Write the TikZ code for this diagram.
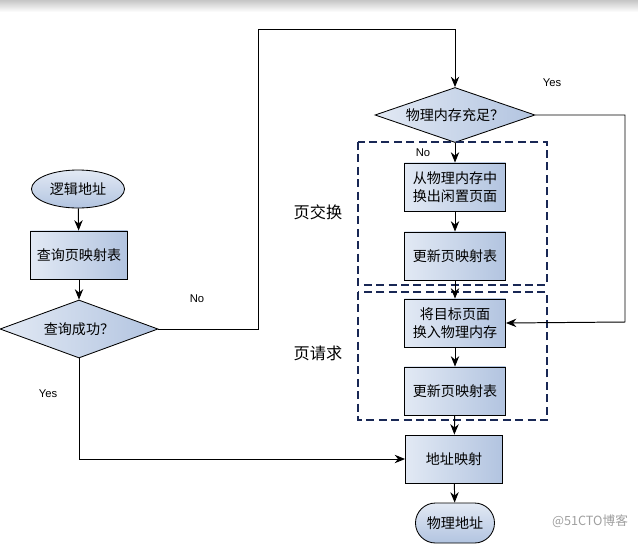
\documentclass[tikz,border=0pt]{standalone}
\usepackage{fontspec}
\setmainfont{Noto Sans CJK SC}
\newfontfamily\latinfont{Liberation Sans}
\usetikzlibrary{shapes.geometric,arrows.meta}

\begin{document}
\begin{tikzpicture}[x=0.025cm, y=-0.025cm]
    % Define styles
    \tikzset{
        process/.style={draw, line width=0.6pt, left color=boxleft, right color=boxright, minimum width=2.525cm, minimum height=1.2cm, inner sep=1pt, align=center, font=\fontsize{10}{13}\selectfont},
        decision/.style={draw, line width=0.6pt, diamond, left color=boxleft, right color=boxright, inner sep=0pt, align=center, font=\fontsize{10}{13}\selectfont},
        terminal/.style={draw, line width=0.6pt, top color=boxleft, bottom color=boxright, align=center, font=\fontsize{10}{13}\selectfont},
        group/.style={draw=groupblue, line width=1.4pt, dash pattern=on 2mm off 1.1mm},
        grouplabel/.style={font=\fontsize{11.5}{14}\selectfont},
        answer/.style={font=\latinfont\fontsize{8}{10}\selectfont},
        flow/.style={-{Stealth[length=2.6mm, width=2.1mm]}, line width=0.7pt}
    }
    \definecolor{boxleft}{RGB}{226,233,244}
    \definecolor{boxright}{RGB}{178,196,224}
    \definecolor{groupblue}{RGB}{25,40,85}

    % Page frame
    \useasboundingbox (0,0) rectangle (638,553);
    \shade[top color=gray!45, bottom color=white] (0,0) rectangle (638,12);

    % Left column: logical address lookup
    \node[terminal, ellipse, minimum width=2.325cm, minimum height=0.95cm, inner sep=0pt] (logic) at (78,189) {逻辑地址};
    \node[process, minimum width=2.425cm] (lookup) at (79,255) {查询页映射表};
    \node[decision, aspect=2.72, minimum width=3.95cm, minimum height=1.45cm] (found) at (79,329) {查询成功？};

    % Right column: memory check
    \node[decision, aspect=2.9, minimum width=4.0cm, minimum height=1.375cm] (enough) at (455,115) {物理内存充足？};

    % Page swap group
    \draw[group] (358,142) rectangle (547,285);
    \node[grouplabel] (swaplabel) at (318,212) {页交换};
    \node[process] (swapout) at (455,187) {从物理内存中\\换出闲置页面};
    \node[process] (update1) at (455,256) {更新页映射表};

    % Page request group
    \draw[group] (358,292) rectangle (547,420);
    \node[grouplabel] (reqlabel) at (318,353) {页请求};
    \node[process] (swapin) at (455,323) {将目标页面\\换入物理内存};
    \node[process] (update2) at (455,391) {更新页映射表};

    % Address mapping
    \node[process, minimum width=2.425cm] (mapping) at (454,459) {地址映射};
    \node[terminal, rounded corners=0.5cm, minimum width=1.975cm, minimum height=1.0cm] (phys) at (455,523) {物理地址};

    % Turning points
    \coordinate (noturn) at (258,29);
    \coordinate (yesturn) at (625,322);

    % Arrows
    \draw[flow] (logic) -- (lookup);
    \draw[flow] (lookup) -- (found);
    \draw[flow] (found.east) -| (noturn) -| (enough.north);
    \draw[flow] (enough) -- (swapout);
    \draw[flow] (swapout) -- (update1);
    \draw[flow] (update1) -- (swapin);
    \draw[flow] (swapin) -- (update2);
    \draw[flow] (update2) -- (mapping);
    \draw[flow] (mapping) -- (phys);
    \draw[flow] (enough.east) -| (yesturn) -- (swapin.east);
    \draw[flow] (found.south) |- (mapping.west);

    % Answer labels
    \node[answer] (nofound) at (197,299) {No};
    \node[answer] (yesfound) at (48,394) {Yes};
    \node[answer] (noenough) at (423,153) {No};
    \node[answer] (yesenough) at (552,83) {Yes};

    % Watermark
    \node[text=gray!75, font=\fontsize{9}{11}\selectfont] (mark) at (590,521) {@51CTO博客};
\end{tikzpicture}
\end{document}
